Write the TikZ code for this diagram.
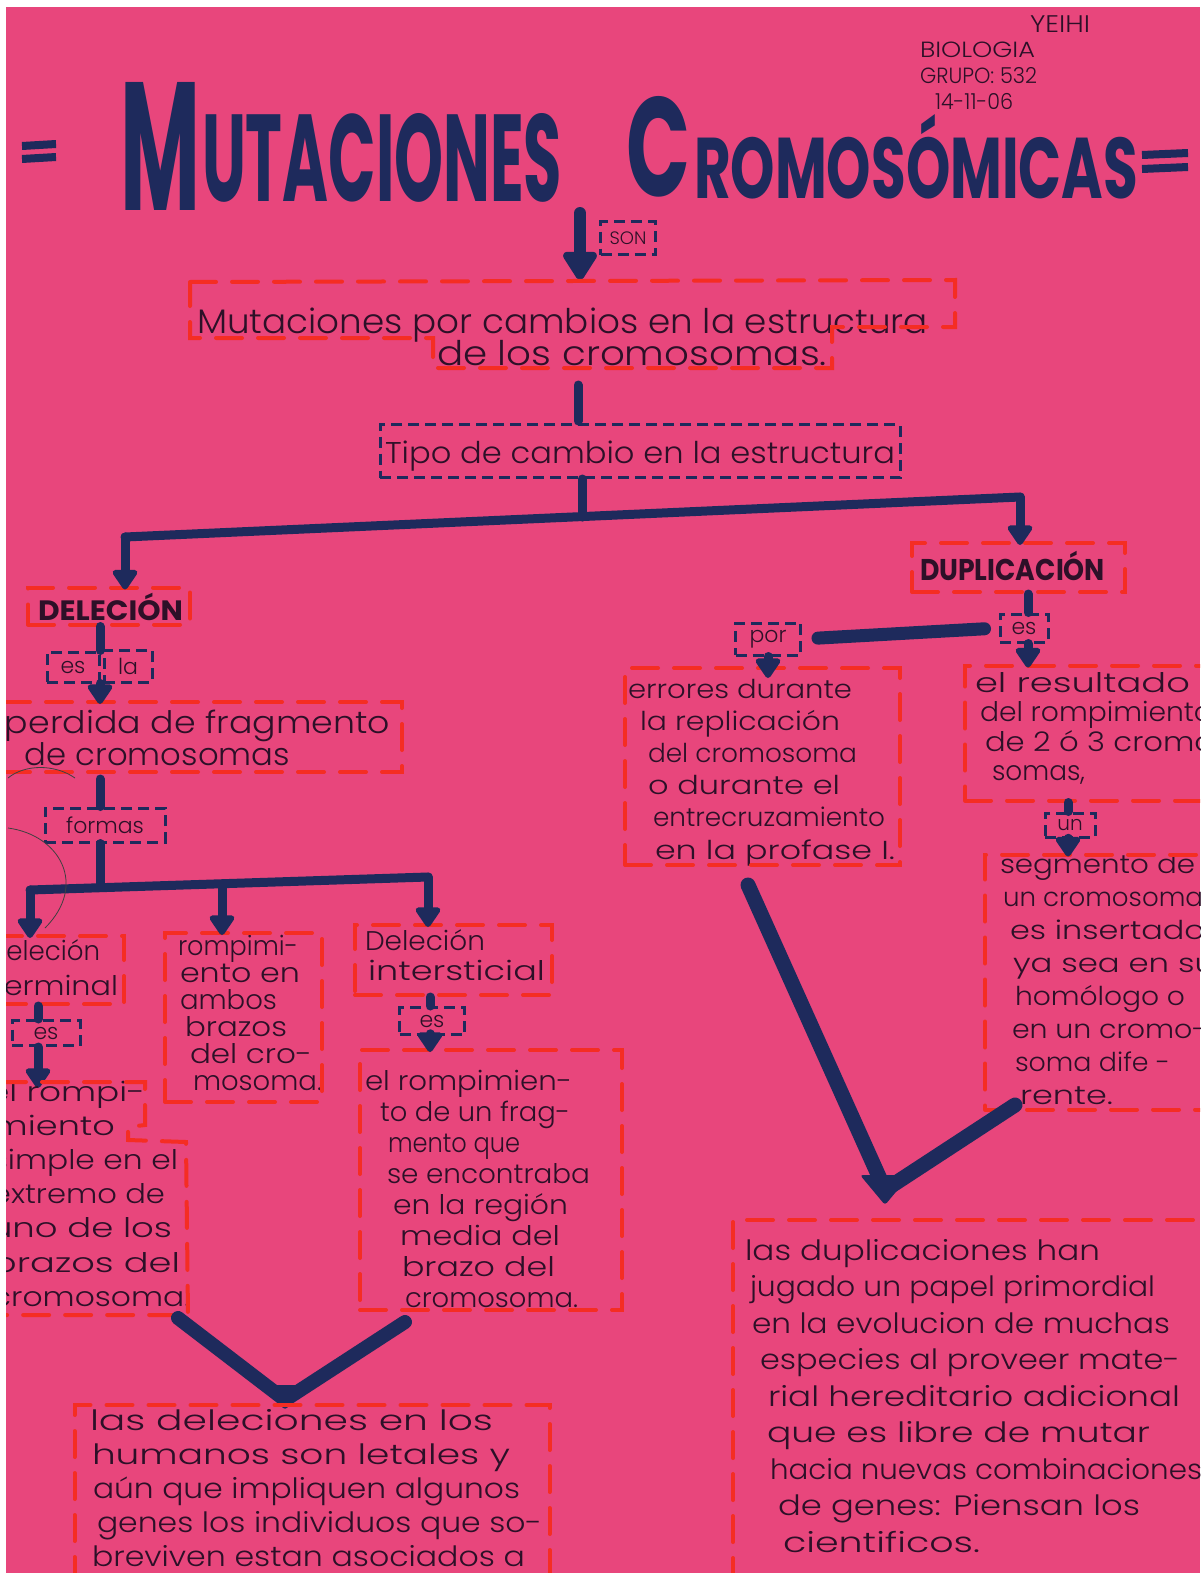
\documentclass[tikz,border=0pt]{standalone}
\usepackage{fontspec}
\setmainfont{Poppins}
\IfFontExistsTF{Poppins Light}{\newfontfamily\thin{Poppins Light}}{\newcommand\thin{}}
\usetikzlibrary{arrows.meta}
\definecolor{paper}{RGB}{232,70,124}
\definecolor{navyc}{RGB}{30,42,92}
\definecolor{redc}{RGB}{245,45,35}
\definecolor{inkc}{RGB}{45,16,40}
% one handwritten line stretched to a given width
\newcommand\hw[2]{\resizebox{#1pt}{\height}{#2}}
% fixed height of the first line of a block
\newcommand\st{\rule{0pt}{30pt}}
% keep baselines at exactly the given distance
\newcommand\tightlines{\lineskiplimit=-60pt\relax}
\begin{document}
\begin{tikzpicture}[x=1pt,y=-1pt]
\tikzset{
  txt/.style={text=inkc, inner sep=0pt, outer sep=0pt},
  blk/.style 2 args={txt, align=left, anchor=north west,
    font={\thin\fontsize{#1}{#2}\selectfont\tightlines}},
  one/.style={txt, anchor=base west, font=\thin\fontsize{#1}{#1}\selectfont},
  ttl/.style={inner sep=0pt, outer sep=0pt, text=navyc, anchor=south west, font=\bfseries},
  rbox/.style={draw=redc, line width=4pt, dash pattern=on 26pt off 16pt, inner sep=0pt, line cap=round},
  nbox/.style={draw=navyc, line width=3pt, dash pattern=on 11pt off 6pt, text=inkc,
    inner sep=0pt, font=\thin\fontsize{#1}{#1}\selectfont},
  link/.style={draw=navyc, line width=9pt, line cap=round},
  arr/.style={link, shorten >=-4pt, -{Triangle[width=28pt,length=22pt,round]}},
  vlink/.style={draw=navyc, line width=14pt, line cap=round, line join=round},
  pencil/.style={draw=black!75, line width=0.8pt},
}
\useasboundingbox (0,0) rectangle (1200,1573);
\fill[paper] (0,0) rectangle (1200,1573);
\begin{scope}
\clip (0,0) rectangle (1200,1573);

% ---------- header ----------
\node[one=24] (auth) at (1030,33) {\hw{60}{YEIHI}};
\node[blk={22}{26}] (course) at (920,28)
  {\st\hw{115}{BIOLOGIA}\\\hw{117}{GRUPO: 532}\\\hspace*{15pt}\hw{78}{14-11-06}};

% ---------- title ----------
\draw[navyc, line width=8pt] (22,146) -- (56,144) (22,159) -- (56,157);
\draw[navyc, line width=8pt] (1142,155) -- (1188,153) (1142,169) -- (1188,167);
\node[ttl] (tM) at (120,210) {\resizebox{80pt}{128pt}{M}};
\node[ttl] (tU) at (202,202) {\resizebox{360pt}{88pt}{UTACIONES}};
\node[ttl] (tC) at (626,197) {\resizebox{64pt}{100pt}{C}};
\node[ttl] (tR) at (694,199) {\resizebox{444pt}{84pt}{ROMOSÓMICAS}};

% ---------- top of the map ----------
\node[nbox=18, minimum width=55pt, minimum height=33pt] (son) at (628,238) {SON};
\coordinate (sonTop) at (580,213);
\coordinate (b1n) at (580,280);
\draw[link, line width=12pt, -{Triangle[width=38pt,length=32pt,round]}] (sonTop) -- (b1n);

\node[blk={34}{32}] (b1) at (197,303)
  {\st\hw{731}{Mutaciones por cambios en la estructura}\\\hspace*{240pt}\hw{390}{de los cromosomas.}};
\draw[rbox] (190,282) -- (955,280) -- (955,327) -- (832,327) -- (832,368) -- (433,368)
  -- (433,338) -- (190,338) -- cycle;
\coordinate (b1s) at (578,372);

\node[one=30] (tipo) at (385,463) {\hw{510}{Tipo de cambio en la estructura}};
\node[nbox=20, minimum width=520pt, minimum height=53pt] (otipo) at (640,451) {};
\draw[link, shorten <=13pt, shorten >=2pt] (b1s) -- (otipo.north -| b1s);

\coordinate (jT) at (582,517);
\coordinate (jL) at (125,537);
\coordinate (jR) at (1020,497);
\draw[link] (otipo.south -| jT) -- (jT);
\draw[link] (jL) -- (jR);

% ---------- deletion branch ----------
\node[one=28, font=\fontsize{28}{28}\selectfont\bfseries] (del) at (38,620) {\hw{145}{DELECIÓN}};
\node[rbox, minimum width=162pt, minimum height=37pt] (oDel) at (109,606) {};
\draw[arr] (jL) -- (oDel.north -| jL);

\coordinate (c100) at (100,0);
\node[nbox=22, minimum width=52pt, minimum height=30pt] (es1) at (73,667) {es};
\node[nbox=22, minimum width=48pt, minimum height=32pt] (la1) at (128,666) {la};
\draw[link] (oDel.south -| c100) -- (es1.north -| c100);

\node[blk={31}{32}] (perd) at (5,703)
  {\st\hw{385}{perdida de fragmento}\\\hspace*{20pt}\hw{265}{de cromosomas}};
\node[rbox, minimum width=398pt, minimum height=70pt] (oPerd) at (203,737) {};
\draw[arr] (es1.south -| c100) -- (oPerd.north -| c100);

\node[nbox=22, minimum width=120pt, minimum height=34pt] (forms) at (105,825) {formas};
\draw[link, shorten <=5pt] (oPerd.south -| c100) -- (forms.north -| c100);

\coordinate (jF) at (100,887);
\coordinate (jF1) at (30,890);
\coordinate (jF2) at (222,884);
\coordinate (jF3) at (428,877);
\draw[link] (forms.south -| c100) -- (jF);
\draw[link] (jF1) -- (jF3);

% thin pencil strokes
\draw[pencil] (8,778) .. controls (25,764) and (55,764) .. (75,778);
\draw[pencil] (8,828) .. controls (60,835) and (88,885) .. (45,928);

% terminal
\node[blk={27}{35}] (term) at (-12,930) {\st\hw{112}{Deleción}\\\hspace*{5pt}\hw{125}{terminal}};
\node[rbox, minimum width=124pt, minimum height=68pt] (oTerm) at (62,970) {};
\draw[arr] (jF1) -- (oTerm.north -| jF1);

\coordinate (c38) at (38,0);
\node[nbox=22, minimum width=68pt, minimum height=25pt] (es2) at (46,1033) {es};
\draw[link] (oTerm.south -| c38) -- (es2.north -| c38);
\coordinate (rsTop) at (38,1084);
\draw[arr] (es2.south -| c38) -- (rsTop);

\node[blk={27}{34.2}] (rsim) at (-12,1071)
  {\st\hw{157}{el rompi-}\\\hspace*{4pt}\hw{123}{miento}\\\hspace*{4pt}\hw{186}{simple en el}\\
   \hspace*{4pt}\hw{173}{extremo de}\\\hspace*{2pt}\hw{182}{uno de los}\\
   \hspace*{4pt}\hw{188}{brazos del}\\\hspace*{4pt}\hw{198}{cromosoma.}};
\draw[rbox] (0,1082) -- (145,1082) -- (145,1125) -- (128,1127) -- (128,1140) -- (186,1142)
  -- (188,1315) -- (0,1315);

% both arms
\node[blk={27}{27}] (romp) at (178,925)
  {\st\hw{120}{rompimi-}\\\hspace*{2pt}\hw{120}{ento en}\\\hspace*{2pt}\hw{97}{ambos}\\
   \hspace*{7pt}\hw{102}{brazos}\\\hspace*{12pt}\hw{122}{del cro-}\\\hspace*{15pt}\hw{129}{mosoma.}};
\node[rbox, minimum width=157pt, minimum height=169pt] (oRomp) at (243.5,1017.5) {};
\draw[arr] (jF2) -- (oRomp.north -| jF2);

% interstitial
\node[blk={27}{30}] (inter) at (365,920) {\st\hw{120}{Deleción}\\\hspace*{3pt}\hw{177}{intersticial}};
\node[rbox, minimum width=197pt, minimum height=70pt] (oInter) at (453.5,960) {};
\draw[arr] (jF3) -- (oInter.north -| jF3);

\coordinate (c430) at (430,0);
\node[nbox=22, minimum width=65pt, minimum height=27pt] (es3) at (432,1021) {es};
\draw[link] (oInter.south -| c430) -- (es3.north -| c430);

\node[blk={27}{31}] (rint) at (365,1060)
  {\st\hw{207}{el rompimien-}\\\hspace*{15pt}\hw{190}{to de un frag-}\\\hspace*{23pt}\hw{132}{mento que}\\
   \hspace*{22pt}\hw{203}{se encontraba}\\\hspace*{28pt}\hw{175}{en la región}\\
   \hspace*{35pt}\hw{160}{media del}\\\hspace*{37pt}\hw{153}{brazo del}\\\hspace*{40pt}\hw{173}{cromosoma.}};
\node[rbox, minimum width=262pt, minimum height=260pt] (oRi) at (491,1180) {};
\draw[arr] (es3.south -| c430) -- (oRi.north -| c430);

% joining V and conclusion
\coordinate (vL1) at (178,1318);
\coordinate (vLb) at (285,1400);
\coordinate (vL2) at (405,1322);
\draw[vlink] (vL1) -- (vLb) -- (vL2);
\fill[navyc, rounded corners=3pt] (262,1385) -- (308,1385) -- (285,1410) -- cycle;

\node[blk={28}{34}] (ldel) at (90,1400)
  {\st\hw{403}{las deleciones en los}\\\hspace*{2pt}\hw{418}{humanos son letales y}\\
   \hspace*{3pt}\hw{427}{aún que impliquen algunos}\\\hspace*{7pt}\hw{445}{genes los individuos que so-}\\
   \hspace*{2pt}\hw{433}{breviven estan asociados a}};
\node[rbox, minimum width=475pt, minimum height=200pt] (oLdel) at (312,1505) {};

% ---------- duplication branch ----------
\node[one=30, font=\fontsize{30}{30}\selectfont\bfseries] (dup) at (920,580) {\hw{185}{DUPLICACIÓN}};
\node[rbox, minimum width=213pt, minimum height=49pt] (oDup) at (1018.5,567.5) {};
\draw[arr] (jR) -- (oDup.north -| jR);

\coordinate (c1028) at (1028,0);
\node[nbox=22, minimum width=48pt, minimum height=28pt] (es4) at (1024,628) {es};
\draw[link] (oDup.south -| c1028) -- (es4.north -| c1028);

\node[nbox=22, minimum width=65pt, minimum height=32pt] (por) at (768,639) {por};
\draw[link, line width=13pt, shorten <=14pt, shorten >=16pt] (es4.west) -- (por.east);

\node[blk={26}{32.2}] (err) at (628,668)
  {\st\hw{224}{errores durante}\\\hspace*{12pt}\hw{200}{la replicación}\\\hspace*{20pt}\hw{209}{del cromosoma}\\
   \hspace*{20pt}\hw{192}{o durante el}\\\hspace*{25pt}\hw{232}{entrecruzamiento}\\\hspace*{27pt}\hw{240}{en la profase I.}};
\node[rbox, minimum width=275pt, minimum height=197pt] (oErr) at (762.5,766.5) {};
\draw[arr, shorten >=-12pt] (por.south) -- (oErr.north -| por.south);

\node[blk={27}{29.5}] (res) at (975,662)
  {\st\hw{215}{el resultado}\\\hspace*{5pt}\hw{232}{del rompimiento}\\\hspace*{10pt}\hw{245}{de 2 ó 3 cromo-}\\
   \hspace*{17pt}\hw{93}{somas,}};
\node[rbox, minimum width=250pt, minimum height=135pt] (oRes) at (1090,733) {};
\draw[arr] (es4.south -| c1028) -- (oRes.north -| c1028);

\coordinate (c1068) at (1068,0);
\node[nbox=20, minimum width=50pt, minimum height=24pt] (un) at (1070,825) {un};
\draw[link] (oRes.south -| c1068) -- (un.north -| c1068);

\node[blk={26}{33}] (seg) at (1000,843)
  {\st\hw{195}{segmento de}\\\hspace*{3pt}\hw{200}{un cromosoma}\\\hspace*{10pt}\hw{195}{es insertado}\\
   \hspace*{13pt}\hw{202}{ya sea en su}\\\hspace*{15pt}\hw{170}{homólogo o}\\\hspace*{12pt}\hw{195}{en un cromo-}\\
   \hspace*{15pt}\hw{155}{soma dife -}\\\hspace*{20pt}\hw{93}{rente.}};
\node[rbox, minimum width=230pt, minimum height=255pt] (oSeg) at (1100,982) {};
\draw[arr] (un.south -| c1068) -- (oSeg.north -| c1068);

\coordinate (vR1) at (748,885);
\coordinate (vRb) at (885,1190);
\coordinate (vR2) at (1015,1105);
\draw[vlink, line width=15pt] (vR1) -- (vRb) -- (vR2);
\fill[navyc, rounded corners=3pt] (860,1175) -- (910,1175) -- (885,1205) -- cycle;

\node[blk={28}{36.5}] (ldup) at (745,1230)
  {\st\hw{355}{las duplicaciones han}\\\hspace*{5pt}\hw{405}{jugado un papel primordial}\\
   \hspace*{7pt}\hw{418}{en la evolucion de muchas}\\\hspace*{15pt}\hw{420}{especies al proveer mate-}\\
   \hspace*{23pt}\hw{412}{rial hereditario adicional}\\\hspace*{22pt}\hw{383}{que es libre de mutar}\\
   \hspace*{25pt}\hw{432}{hacia nuevas combinaciones}\\\hspace*{33pt}\hw{362}{de genes: Piensan los}\\
   \hspace*{38pt}\hw{197}{cientificos.}};
\node[rbox, minimum width=470pt, minimum height=360pt] (oLdup) at (968,1400) {};
\end{scope}

% scanner margin
\fill[white] (0,0) rectangle (1200,7);
\fill[white] (0,0) rectangle (6,1573);
\end{tikzpicture}
\end{document}
